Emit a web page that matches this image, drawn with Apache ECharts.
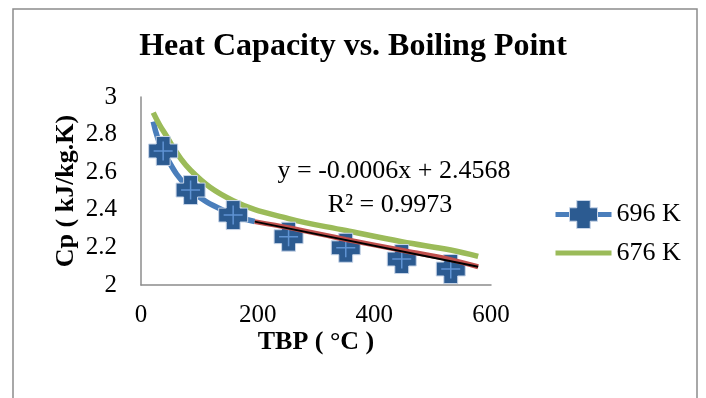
<!DOCTYPE html>
<html>
<head>
<meta charset="utf-8">
<script src="https://cdn.jsdelivr.net/npm/echarts@6/dist/echarts.min.js"></script>
<style>
html,body{margin:0;padding:0;background:#fff;}
#chart{width:706px;height:398px;}
</style>
</head>
<body>
<div id="chart"></div>
<script>
// ---- data ----
const titleText = 'Heat Capacity vs. Boiling Point';
const xName = 'TBP ( °C )';
const yName = 'Cp ( kJ/kg.K)';
const seriesNames = ['696 K', '676 K'];

// 696 K : smooth line part (no marker on the first point)
const tbpLine696 = [21, 38, 85, 158, 195];
const cpLine696  = [2.869, 2.713, 2.505, 2.372, 2.338];
// 696 K : markers
const tbpMarks696 = [38, 85, 158, 253, 351, 447, 531];
const cpMarks696  = [2.713, 2.505, 2.372, 2.257, 2.198, 2.138, 2.085];
// 676 K
const tbp676 = [21, 38, 85, 158, 253, 351, 447, 531, 578];
const cp676  = [2.917, 2.82, 2.61, 2.448, 2.353, 2.29, 2.23, 2.186, 2.152];
// red fitted line and black linear trendline
const tbpFit = [195, 253, 351, 447, 531, 578];
const cpFit  = [2.337, 2.305, 2.242, 2.185, 2.135, 2.097];
const tbpTrend = [195, 578];
const cpTrend  = [2.337, 2.097];
const trendLabel = ['y = -0.0006x + 2.4568', 'R² = 0.9973'];

const xTicks = {min: 0, max: 600, interval: 200};
const yTicks = {min: 2, max: 3, interval: 0.2};

const zip = (xs, ys) => xs.map((x, i) => [x, ys[i]]);

const crossPath = 'path://M6.5,0H18.5V6.5H25V18.5H18.5V25H6.5V18.5H0V6.5H6.5Z';
const plusPath = 'path://M0,5H10M5,0V10';
const serif = '"Liberation Serif", "Times New Roman", serif';

const chart = echarts.init(document.getElementById('chart'));
chart.setOption({
  animation: false,
  backgroundColor: '#fff',
  title: {
    text: titleText, left: 'center', top: 26,
    textStyle: {fontFamily: serif, fontWeight: 'bold', fontSize: 32, color: '#000'}
  },
  grid: {left: 141, right: 215, top: 97, bottom: 113},
  legend: {
    data: [
      {name: seriesNames[0], lineStyle: {color: '#4a7ebb', width: 5, type: 'solid', opacity: 1},
       itemStyle: {color: '#2c5b91', borderColor: '#c8d5e8', borderWidth: 1}},
      {name: seriesNames[1], lineStyle: {color: '#9bbb59', width: 5, type: 'solid', opacity: 1},
       itemStyle: {opacity: 0}}
    ],
    orient: 'vertical', left: 548, top: 195,
    itemWidth: 56, itemHeight: 35, itemGap: 10,
    textStyle: {fontFamily: serif, fontSize: 26, color: '#000'}
  },
  xAxis: {
    type: 'value', min: xTicks.min, max: xTicks.max, interval: xTicks.interval,
    name: xName, nameLocation: 'middle', nameGap: 43,
    nameTextStyle: {fontFamily: serif, fontWeight: 'bold', fontSize: 26, color: '#000'},
    axisLine: {show: true, lineStyle: {color: '#8c8c8c', width: 1.5}},
    axisTick: {show: false},
    splitLine: {show: false},
    axisLabel: {fontFamily: serif, fontSize: 25, color: '#000', margin: 18}
  },
  yAxis: {
    type: 'value', min: yTicks.min, max: yTicks.max, interval: yTicks.interval,
    name: yName, nameLocation: 'middle', nameGap: 62,
    nameTextStyle: {fontFamily: serif, fontWeight: 'bold', fontSize: 26, color: '#000'},
    axisLine: {show: true, lineStyle: {color: '#8c8c8c', width: 1.5}},
    axisTick: {show: false},
    splitLine: {show: false},
    axisLabel: {fontFamily: serif, fontSize: 25, color: '#000', margin: 24,
      padding: [6, 0, 0, 0],
      formatter: v => String(Math.round(v * 10) / 10)}
  },
  graphic: [
    {type: 'rect', shape: {x: 13, y: 9, width: 684, height: 400}, silent: true,
     style: {fill: 'none', stroke: '#8c8c8c', lineWidth: 1.5}, z: -1},
    {type: 'text', x: 394, y: 171, silent: true,
     style: {text: trendLabel[0], fontFamily: serif, fontSize: 26, fill: '#000',
             textAlign: 'center', textVerticalAlign: 'middle'}},
    {type: 'text', x: 390, y: 205, silent: true,
     style: {text: trendLabel[1], fontFamily: serif, fontSize: 26, fill: '#000',
             textAlign: 'center', textVerticalAlign: 'middle'}}
  ],
  series: [
    {
      name: seriesNames[0], type: 'line', smooth: 0.4,
      data: zip(tbpLine696, cpLine696),
      showSymbol: false, symbol: crossPath, symbolSize: 29,
      itemStyle: {color: '#2c5b91', borderColor: '#c8d5e8', borderWidth: 1},
      lineStyle: {color: '#4a7ebb', width: 5.5},
      z: 2
    },
    {
      name: seriesNames[1], type: 'line', smooth: 0.4,
      data: zip(tbp676, cp676),
      showSymbol: false, symbol: 'circle',
      itemStyle: {color: '#9bbb59'},
      lineStyle: {color: '#9bbb59', width: 5.5},
      z: 3
    },
    {
      name: 'marks696', type: 'scatter',
      data: zip(tbpMarks696, cpMarks696),
      symbol: crossPath, symbolSize: 29,
      itemStyle: {color: '#2c5b91', borderColor: '#c8d5e8', borderWidth: 1, opacity: 1},
      z: 4
    },
    {
      name: 'marks696inner', type: 'scatter',
      data: zip(tbpMarks696, cpMarks696),
      symbol: plusPath, symbolSize: 19,
      itemStyle: {color: 'rgba(0,0,0,0)', borderColor: '#5f93d3', borderWidth: 1.5, opacity: 1},
      z: 5
    },
    {
      name: 'fit', type: 'line', smooth: 0.3,
      data: zip(tbpFit, cpFit),
      showSymbol: false, symbol: 'none',
      lineStyle: {color: '#c0504d', width: 5},
      z: 6
    },
    {
      name: 'trend', type: 'line',
      data: zip(tbpTrend, cpTrend),
      showSymbol: false, symbol: 'none',
      lineStyle: {color: '#000', width: 2},
      z: 7
    }
  ]
});
</script>
</body>
</html>
